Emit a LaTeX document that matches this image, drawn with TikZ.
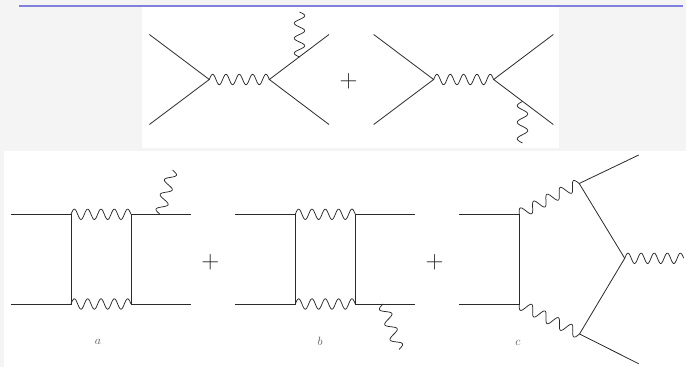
\documentclass[tikz,border=0pt]{standalone}
\usetikzlibrary{calc}
\definecolor{pagebg}{HTML}{F4F4F4}
\definecolor{rulecol}{HTML}{8080DC}
\definecolor{inkcol}{HTML}{2A2A2A}
\tikzset{
  fermion/.style={draw=inkcol,line width=0.8pt},
  plussign/.style={inner sep=0pt,text=inkcol,font=\fontsize{25}{27}\selectfont},
  caplabel/.style={inner sep=0pt,text=inkcol!80,font=\fontsize{12.5}{14}\selectfont},
}
% \photon{from}{to}{periods}{signed amplitude}
\newcommand{\photon}[4]{%
  \begin{scope}[x={($(#2)-(#1)$)},y={($($(#1)!1pt!90:(#2)$)-(#1)$)},shift={(#1)}]
  \draw[draw=inkcol,line width=0.75pt,line join=round,variable=\t,domain=0:1,samples=90]
    plot (\t,{#4*sin(360*#3*\t)});
  \end{scope}}
\begin{document}
\begin{tikzpicture}[x=1pt,y=-1pt]
\useasboundingbox (0,0) rectangle (686,367);
\fill[pagebg] (0,0) rectangle (686,367);
\fill[white] (142,7) rectangle (559,148);
\fill[white] (4,151) rectangle (686,367);
\coordinate (rl) at (19,6); \coordinate (rr) at (683,6);
\draw[rulecol,line width=2pt] (rl) -- (rr);

% top left
\coordinate (a1) at (149.4,34.5); \coordinate (a2) at (149.4,124.5);
\coordinate (av) at (209.3,79.5); \coordinate (aw) at (269.3,79.5);
\coordinate (a3) at (329,34.5); \coordinate (a4) at (329,124.5);
\coordinate (ap) at (299.5,57); \coordinate (aq) at (299.5,12);
\draw[fermion] (a1) -- (av) -- (a2);
\draw[fermion] (a3) -- (aw) -- (a4);
\photon{av}{aw}{4.5}{5.2}
\photon{ap}{aq}{3}{5.2}

\node[plussign] (p0) at (348.7,81.7) {$+$};

% top right
\coordinate (b1) at (373.7,34.5); \coordinate (b2) at (373.7,124.5);
\coordinate (bv) at (433.6,79.5); \coordinate (bw) at (493.6,79.5);
\coordinate (b3) at (553.3,34.5); \coordinate (b4) at (553.3,124.5);
\coordinate (bp) at (522.5,101.5); \coordinate (bq) at (522.5,143);
\draw[fermion] (b1) -- (bv) -- (b2);
\draw[fermion] (b3) -- (bw) -- (b4);
\photon{bv}{bw}{4.5}{5.2}
\photon{bp}{bq}{2.5}{-5.2}

% box a
\coordinate (c1) at (11,214.3); \coordinate (c2) at (71,214.3);
\coordinate (c3) at (131,214.3); \coordinate (c4) at (191,214.3);
\coordinate (c5) at (11,304); \coordinate (c6) at (71,304);
\coordinate (c7) at (131,304); \coordinate (c8) at (191,304);
\coordinate (cp) at (160,214.3); \coordinate (cq) at (172.5,170);
\draw[fermion] (c1) -- (c2) -- (c6) -- (c5);
\draw[fermion] (c4) -- (c3) -- (c7) -- (c8);
\photon{c2}{c3}{4.5}{5.2}
\photon{c6}{c7}{4.5}{5.2}
\photon{cp}{cq}{3}{5.2}
\node[plussign] (p1) at (210.3,262.7) {$+$};
\node[caplabel] (la) at (98,342) {$a$};

% box b
\coordinate (d1) at (235.3,214.3); \coordinate (d2) at (295.3,214.3);
\coordinate (d3) at (355.3,214.3); \coordinate (d4) at (414.8,214.3);
\coordinate (d5) at (235.3,304); \coordinate (d6) at (295.3,304);
\coordinate (d7) at (355.3,304); \coordinate (d8) at (414.8,304);
\coordinate (dp) at (383,304); \coordinate (dq) at (399,349.5);
\draw[fermion] (d1) -- (d2) -- (d6) -- (d5);
\draw[fermion] (d4) -- (d3) -- (d7) -- (d8);
\photon{d2}{d3}{4.5}{5.2}
\photon{d6}{d7}{4.5}{5.2}
\photon{dp}{dq}{3}{-5.2}
\node[plussign] (p2) at (434.7,262.7) {$+$};
\node[caplabel] (lb) at (320,341) {$b$};

% diagram c
\coordinate (e1) at (459.3,214.3); \coordinate (e2) at (519.3,214.3);
\coordinate (e5) at (459.3,304); \coordinate (e6) at (519.3,304);
\coordinate (eu) at (579.2,183.5); \coordinate (el) at (579.5,334);
\coordinate (eo) at (638.7,155); \coordinate (ep) at (638.7,363.7);
\coordinate (ea) at (624.7,258.3); \coordinate (ez) at (683.7,258.3);
\draw[fermion] (e1) -- (e2) -- (e6) -- (e5);
\draw[fermion] (eo) -- (eu) -- (ea) -- (el) -- (ep);
\photon{e2}{eu}{4.5}{5.2}
\photon{e6}{el}{4.5}{-5.2}
\photon{ea}{ez}{4.5}{5.2}
\node[caplabel] (lc) at (518,343) {$c$};
\end{tikzpicture}
\end{document}
